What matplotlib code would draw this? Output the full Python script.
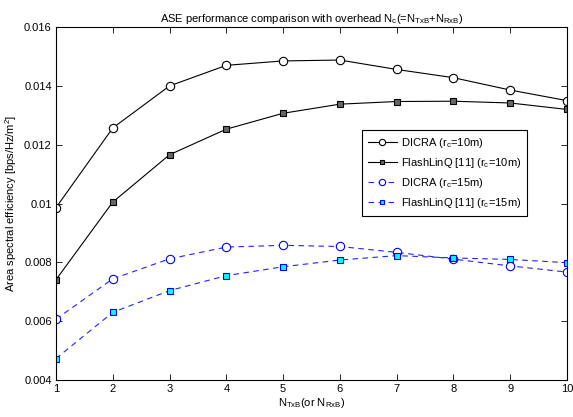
import matplotlib
matplotlib.use("Agg")
import matplotlib.pyplot as plt

plt.rcParams['font.family'] = ['Liberation Sans', 'DejaVu Sans']
plt.rcParams['mathtext.fontset'] = 'custom'
plt.rcParams['mathtext.rm'] = 'Liberation Sans'
plt.rcParams['mathtext.it'] = 'Liberation Sans'
plt.rcParams['mathtext.default'] = 'regular'

x = [1, 2, 3, 4, 5, 6, 7, 8, 9, 10]
dicra_10 = [0.00986, 0.01257, 0.01400, 0.01470, 0.01485, 0.01488, 0.01456, 0.01428, 0.01386, 0.01350]
flash_10 = [0.00741, 0.01005, 0.01166, 0.01253, 0.01307, 0.01338, 0.01347, 0.01348, 0.01342, 0.01320]
dicra_15 = [0.00607, 0.00744, 0.00812, 0.00852, 0.00858, 0.00854, 0.00834, 0.00811, 0.00788, 0.00767]
flash_15 = [0.00473, 0.00630, 0.00704, 0.00755, 0.00785, 0.00808, 0.00823, 0.00815, 0.00810, 0.00799]

ytick_vals = [0.004, 0.006, 0.008, 0.010, 0.012, 0.014, 0.016]
ytick_labels = ['0.004', '0.006', '0.008', '0.01', '0.012', '0.014', '0.016']
labels = ['DICRA (r$_c$=10m)', 'FlashLinQ [11] (r$_c$=10m)',
          'DICRA (r$_c$=15m)', 'FlashLinQ [11] (r$_c$=15m)']

fig = plt.figure(figsize=(5.73, 4.17), dpi=100)
ax = fig.add_axes([0.0977, 0.0887, 0.8918, 0.8463])

ax.plot(x, dicra_10, '-', color='black', lw=0.8, marker='o', ms=6,
        mfc='white', mec='black', mew=0.8, label=labels[0])
ax.plot(x, flash_10, '-', color='black', lw=0.8, marker='s', ms=4.5,
        mfc='#666666', mec='black', mew=0.8, label=labels[1])
ax.plot(x, dicra_15, '--', color='#2222ff', lw=0.8, dashes=(5, 4), marker='o', ms=6,
        mfc='white', mec='#0000ff', mew=0.8, label=labels[2])
ax.plot(x, flash_15, '--', color='#2222ff', lw=0.8, dashes=(5, 4), marker='s', ms=4.5,
        mfc='#00ffff', mec='#0000ff', mew=0.8, label=labels[3])

ax.set_xlim(1, 10)
ax.set_ylim(0.004, 0.016)
ax.set_xticks(x)
ax.set_xticklabels([str(v) for v in x])
ax.set_yticks(ytick_vals)
ax.set_yticklabels(ytick_labels)
ax.tick_params(direction='in', top=True, right=True, labelsize=8, length=4, width=0.6, pad=3)
for s in ax.spines.values():
    s.set_linewidth(0.8)

ax.set_title('ASE performance comparison with overhead N$_c$(=N$_{TxB}$+N$_{RxB}$)', fontsize=8, pad=4)
ax.set_xlabel('N$_{TxB}$(or N$_{RxB}$)', fontsize=8, labelpad=1)
ax.set_ylabel('Area spectral efficiency [bps/Hz/m$^2$]', fontsize=8, labelpad=4)

leg = ax.legend(loc='upper left', bbox_to_anchor=(0.599, 0.708), fontsize=8,
                frameon=True, fancybox=False, edgecolor='black', framealpha=1,
                handlelength=2.6, borderpad=0.5, labelspacing=0.55, handletextpad=0.4,
                borderaxespad=0, markerscale=0.75)
leg.get_frame().set_linewidth(0.8)

fig.savefig('out.png', dpi=100)
